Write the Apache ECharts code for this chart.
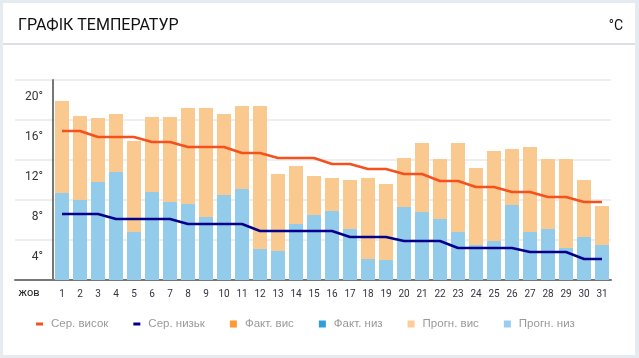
<!DOCTYPE html>
<html>
<head>
<meta charset="utf-8">
<script src="https://cdn.jsdelivr.net/npm/echarts@6/dist/echarts.min.js"></script>
<style>
html,body{margin:0;padding:0;background:#e6ebf2;}
#card{position:absolute;left:3px;top:3px;width:632px;height:352px;background:#fff;}
#chart{position:absolute;left:0;top:0;width:639px;height:358px;}
</style>
</head>
<body>
<div id="card"></div>
<div id="chart"></div>
<script>
const days = ['1','2','3','4','5','6','7','8','9','10','11','12','13','14','15','16','17','18','19','20','21','22','23','24','25','26','27','28','29','30','31'];
const avgHigh = [14.9,14.9,14.3,14.3,14.3,13.8,13.8,13.3,13.3,13.3,12.7,12.7,12.2,12.2,12.2,11.6,11.6,11.1,11.1,10.6,10.6,9.9,9.9,9.3,9.3,8.8,8.8,8.3,8.3,7.8,7.8];
const avgLow = [6.6,6.6,6.6,6.1,6.1,6.1,6.1,5.6,5.6,5.6,5.6,4.9,4.9,4.9,4.9,4.9,4.3,4.3,4.3,3.9,3.9,3.9,3.2,3.2,3.2,3.2,2.8,2.8,2.8,2.1,2.1];
const factHigh = [];
const factLow = [];
const fcHigh = [17.9,16.4,16.2,16.6,13.9,16.3,16.3,17.2,17.2,16.6,17.4,17.4,10.6,11.4,10.4,10.2,10.0,10.2,9.6,12.2,13.7,12.1,13.7,11.2,12.9,13.1,13.3,12.1,12.1,10.0,7.4];
const fcLow = [8.7,8.0,9.8,10.8,4.8,8.8,7.8,7.6,6.3,8.5,9.1,3.1,2.9,5.6,6.5,6.9,5.1,2.1,2.0,7.3,6.8,6.1,4.8,3.5,3.9,7.5,4.8,5.1,3.2,4.3,3.5];
const yTicks = [0,4,8,12,16,20];
const monthLabel = 'жов';

const chart = echarts.init(document.getElementById('chart'));
const gridLine = {show:true, lineStyle:{color:'#eeeeee', width:2}};
const dash = 'path://M0,0L7,0L7,3L0,3Z';
chart.setOption({
  animation:false,
  title:[
    {text:'ГРАФІК ТЕМПЕРАТУР', left:13, top:13, textStyle:{fontFamily:'Roboto', fontSize:16, fontWeight:'normal', color:'#111'}},
    {text:'°C', right:11, top:14, textStyle:{fontFamily:'Roboto', fontSize:14, fontWeight:'normal', color:'#111'}}
  ],
  graphic:[{type:'line', shape:{x1:3,y1:44,x2:635,y2:44}, style:{stroke:'#dcdfe3', lineWidth:2}}],
  legend:{
    left:31, top:313, itemWidth:7, itemHeight:7, itemGap:25, symbolKeepAspect:true,
    textStyle:{fontFamily:'Liberation Sans', fontSize:11.5, color:'#999', padding:[0,0,0,3]},
    data:[
      {name:'Сер. висок', icon:dash, itemStyle:{color:'#f4511e'}},
      {name:'Сер. низьк', icon:dash, itemStyle:{color:'#00008b'}},
      {name:'Факт. вис', icon:'rect'},
      {name:'Факт. низ', icon:'rect'},
      {name:'Прогн. вис', icon:'rect', itemStyle:{color:'#ffcc99'}},
      {name:'Прогн. низ', icon:'rect', itemStyle:{color:'#99ccee'}}
    ]
  },
  grid:[
    {left:53, right:28, top:80, bottom:78},
    {left:15, width:38, top:80, bottom:78}
  ],
  xAxis:[
    {type:'category', gridIndex:0, data:days, axisTick:{show:false},
     axisLine:{lineStyle:{color:'#777', width:2}},
     axisLabel:{margin:9, fontFamily:'Roboto', fontSize:10, color:'#334'}},
    {type:'category', gridIndex:1, data:[monthLabel], axisTick:{show:false},
     axisLine:{lineStyle:{color:'#777', width:2}},
     axisLabel:{margin:8, fontFamily:'Roboto', fontSize:11, color:'#222', padding:[0,10,0,0]}}
  ],
  yAxis:[
    {type:'value', gridIndex:0, min:yTicks[0], max:yTicks[yTicks.length-1], interval:4,
     axisLine:{show:true, lineStyle:{color:'#777', width:2}}, axisTick:{show:false},
     splitLine:gridLine,
     axisLabel:{showMinLabel:false, margin:10, fontFamily:'Roboto', fontSize:12, color:'#333',
       formatter:v=>v+'°', verticalAlign:'top', padding:[11,0,0,0]}},
    {type:'value', gridIndex:1, min:yTicks[0], max:yTicks[yTicks.length-1], interval:4,
     axisLine:{show:false}, axisTick:{show:false}, axisLabel:{show:false}, splitLine:gridLine}
  ],
  series:[
    {name:'Факт. вис', type:'bar', data:factHigh, barWidth:14, barGap:'-100%', itemStyle:{color:'#ff9933'}},
    {name:'Факт. низ', type:'bar', data:factLow, barWidth:14, barGap:'-100%', itemStyle:{color:'#2e9fd8'}},
    {name:'Прогн. вис', type:'bar', data:fcHigh, barWidth:14, barGap:'-100%', itemStyle:{color:'#f9c98f'}},
    {name:'Прогн. низ', type:'bar', data:fcLow, barWidth:14, barGap:'-100%', itemStyle:{color:'#93cbea'}},
    {name:'Сер. висок', type:'line', data:avgHigh, symbol:'none', itemStyle:{color:'#f4511e'}, lineStyle:{color:'#f4511e', width:2.5}, z:5},
    {name:'Сер. низьк', type:'line', data:avgLow, symbol:'none', itemStyle:{color:'#00008b'}, lineStyle:{color:'#00008b', width:2.5}, z:5}
  ]
});
</script>
</body>
</html>
